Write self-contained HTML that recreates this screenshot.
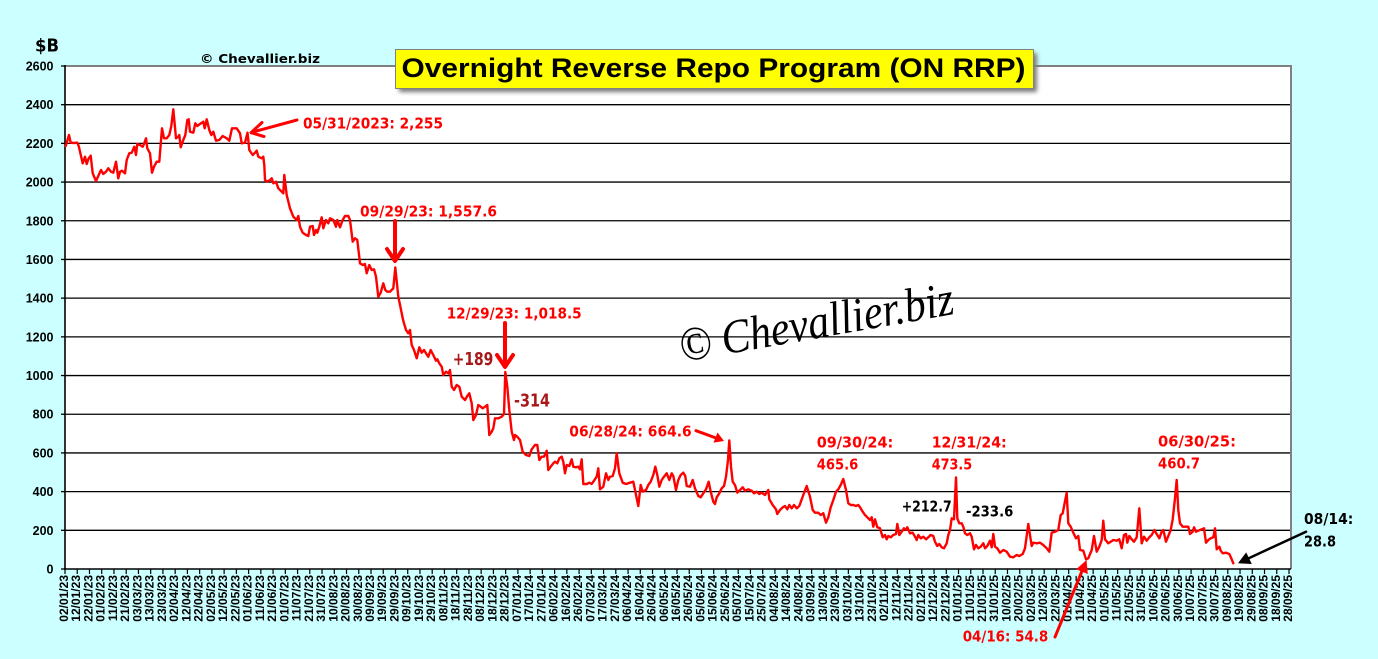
<!DOCTYPE html>
<html><head><meta charset="utf-8"><style>
html,body{margin:0;padding:0;background:#ccffff;}
svg{display:block;}
</style></head><body>
<svg width="1378" height="659" viewBox="0 0 1378 659" xmlns="http://www.w3.org/2000/svg">
<defs>
<filter id="sh" x="-5%" y="-30%" width="110%" height="160%"><feGaussianBlur stdDeviation="2"/></filter>
</defs>
<rect x="0" y="0" width="1378" height="659" fill="#ccffff"/>
<!-- plot area -->
<rect x="65" y="66" width="1226" height="503" fill="#ffffff"/>
<g stroke="#000" stroke-width="1.3">
<line x1="65" y1="530.31" x2="1290" y2="530.31"/>
<line x1="65" y1="491.62" x2="1290" y2="491.62"/>
<line x1="65" y1="452.92" x2="1290" y2="452.92"/>
<line x1="65" y1="414.23" x2="1290" y2="414.23"/>
<line x1="65" y1="375.54" x2="1290" y2="375.54"/>
<line x1="65" y1="336.85" x2="1290" y2="336.85"/>
<line x1="65" y1="298.15" x2="1290" y2="298.15"/>
<line x1="65" y1="259.46" x2="1290" y2="259.46"/>
<line x1="65" y1="220.77" x2="1290" y2="220.77"/>
<line x1="65" y1="182.08" x2="1290" y2="182.08"/>
<line x1="65" y1="143.38" x2="1290" y2="143.38"/>
<line x1="65" y1="104.69" x2="1290" y2="104.69"/>
</g>
<line x1="65" y1="66" x2="1292" y2="66" stroke="#808080" stroke-width="2"/>
<line x1="1291" y1="66" x2="1291" y2="569" stroke="#808080" stroke-width="2"/>
<!-- y axis -->
<line x1="65" y1="65" x2="65" y2="570" stroke="#000" stroke-width="1.6"/>
<g stroke="#000" stroke-width="1.3">
<line x1="61" y1="66" x2="65" y2="66"/><line x1="61" y1="104.69" x2="65" y2="104.69"/><line x1="61" y1="143.38" x2="65" y2="143.38"/><line x1="61" y1="182.08" x2="65" y2="182.08"/><line x1="61" y1="220.77" x2="65" y2="220.77"/><line x1="61" y1="259.46" x2="65" y2="259.46"/><line x1="61" y1="298.15" x2="65" y2="298.15"/><line x1="61" y1="336.85" x2="65" y2="336.85"/><line x1="61" y1="375.54" x2="65" y2="375.54"/><line x1="61" y1="414.23" x2="65" y2="414.23"/><line x1="61" y1="452.92" x2="65" y2="452.92"/><line x1="61" y1="491.62" x2="65" y2="491.62"/><line x1="61" y1="530.31" x2="65" y2="530.31"/><line x1="61" y1="569" x2="65" y2="569"/>
</g>
<!-- x axis -->
<line x1="64" y1="569" x2="1291" y2="569" stroke="#000" stroke-width="1.6"/>
<path stroke="#000" stroke-width="1.2" fill="none" d="M65 569v5M77.24 569v5M89.48 569v5M101.72 569v5M113.96 569v5M126.2 569v5M138.44 569v5M150.68 569v5M162.92 569v5M175.16 569v5M187.4 569v5M199.64 569v5M211.88 569v5M224.12 569v5M236.36 569v5M248.6 569v5M260.84 569v5M273.08 569v5M285.32 569v5M297.56 569v5M309.8 569v5M322.04 569v5M334.28 569v5M346.52 569v5M358.76 569v5M371 569v5M383.24 569v5M395.48 569v5M407.72 569v5M419.96 569v5M432.2 569v5M444.44 569v5M456.68 569v5M468.92 569v5M481.16 569v5M493.4 569v5M505.64 569v5M517.88 569v5M530.12 569v5M542.36 569v5M554.6 569v5M566.84 569v5M579.08 569v5M591.32 569v5M603.56 569v5M615.8 569v5M628.04 569v5M640.28 569v5M652.52 569v5M664.76 569v5M677 569v5M689.24 569v5M701.48 569v5M713.72 569v5M725.96 569v5M738.2 569v5M750.44 569v5M762.68 569v5M774.92 569v5M787.16 569v5M799.4 569v5M811.64 569v5M823.88 569v5M836.12 569v5M848.36 569v5M860.6 569v5M872.84 569v5M885.08 569v5M897.32 569v5M909.56 569v5M921.8 569v5M934.04 569v5M946.28 569v5M958.52 569v5M970.76 569v5M983 569v5M995.24 569v5M1007.48 569v5M1019.72 569v5M1031.96 569v5M1044.2 569v5M1056.44 569v5M1068.68 569v5M1080.92 569v5M1093.16 569v5M1105.4 569v5M1117.64 569v5M1129.88 569v5M1142.12 569v5M1154.36 569v5M1166.6 569v5M1178.84 569v5M1191.08 569v5M1203.32 569v5M1215.56 569v5M1227.8 569v5M1240.04 569v5M1252.28 569v5M1264.52 569v5M1276.76 569v5M1289 569v5"/>
<!-- y labels -->
<g font-family="Liberation Sans, Arial, sans-serif" font-weight="bold" font-size="12.5" fill="#000" text-anchor="end">
<text x="53.5" y="70.5">2600</text><text x="53.5" y="109.2">2400</text><text x="53.5" y="147.9">2200</text><text x="53.5" y="186.6">2000</text><text x="53.5" y="225.3">1800</text><text x="53.5" y="264">1600</text><text x="53.5" y="302.7">1400</text><text x="53.5" y="341.4">1200</text><text x="53.5" y="380">1000</text><text x="53.5" y="418.7">800</text><text x="53.5" y="457.4">600</text><text x="53.5" y="496.1">400</text><text x="53.5" y="534.8">200</text><text x="53.5" y="573.5">0</text>
</g>
<!-- x labels -->
<g font-family="Liberation Sans, Arial, sans-serif" font-weight="bold" font-size="12" fill="#000" text-anchor="end">
<text transform="translate(68,575) rotate(-90)">02/01/23</text>
<text transform="translate(80.24,575) rotate(-90)">12/01/23</text>
<text transform="translate(92.48,575) rotate(-90)">22/01/23</text>
<text transform="translate(104.72,575) rotate(-90)">01/02/23</text>
<text transform="translate(116.96,575) rotate(-90)">11/02/23</text>
<text transform="translate(129.2,575) rotate(-90)">21/02/23</text>
<text transform="translate(141.44,575) rotate(-90)">03/03/23</text>
<text transform="translate(153.68,575) rotate(-90)">13/03/23</text>
<text transform="translate(165.92,575) rotate(-90)">23/03/23</text>
<text transform="translate(178.16,575) rotate(-90)">02/04/23</text>
<text transform="translate(190.4,575) rotate(-90)">12/04/23</text>
<text transform="translate(202.64,575) rotate(-90)">22/04/23</text>
<text transform="translate(214.88,575) rotate(-90)">02/05/23</text>
<text transform="translate(227.12,575) rotate(-90)">12/05/23</text>
<text transform="translate(239.36,575) rotate(-90)">22/05/23</text>
<text transform="translate(251.6,575) rotate(-90)">01/06/23</text>
<text transform="translate(263.84,575) rotate(-90)">11/06/23</text>
<text transform="translate(276.08,575) rotate(-90)">21/06/23</text>
<text transform="translate(288.32,575) rotate(-90)">01/07/23</text>
<text transform="translate(300.56,575) rotate(-90)">11/07/23</text>
<text transform="translate(312.8,575) rotate(-90)">21/07/23</text>
<text transform="translate(325.04,575) rotate(-90)">31/07/23</text>
<text transform="translate(337.28,575) rotate(-90)">10/08/23</text>
<text transform="translate(349.52,575) rotate(-90)">20/08/23</text>
<text transform="translate(361.76,575) rotate(-90)">30/08/23</text>
<text transform="translate(374,575) rotate(-90)">09/09/23</text>
<text transform="translate(386.24,575) rotate(-90)">19/09/23</text>
<text transform="translate(398.48,575) rotate(-90)">29/09/23</text>
<text transform="translate(410.72,575) rotate(-90)">09/10/23</text>
<text transform="translate(422.96,575) rotate(-90)">19/10/23</text>
<text transform="translate(435.2,575) rotate(-90)">29/10/23</text>
<text transform="translate(447.44,575) rotate(-90)">08/11/23</text>
<text transform="translate(459.68,575) rotate(-90)">18/11/23</text>
<text transform="translate(471.92,575) rotate(-90)">28/11/23</text>
<text transform="translate(484.16,575) rotate(-90)">08/12/23</text>
<text transform="translate(496.4,575) rotate(-90)">18/12/23</text>
<text transform="translate(508.64,575) rotate(-90)">28/12/23</text>
<text transform="translate(520.88,575) rotate(-90)">07/01/24</text>
<text transform="translate(533.12,575) rotate(-90)">17/01/24</text>
<text transform="translate(545.36,575) rotate(-90)">27/01/24</text>
<text transform="translate(557.6,575) rotate(-90)">06/02/24</text>
<text transform="translate(569.84,575) rotate(-90)">16/02/24</text>
<text transform="translate(582.08,575) rotate(-90)">26/02/24</text>
<text transform="translate(594.32,575) rotate(-90)">07/03/24</text>
<text transform="translate(606.56,575) rotate(-90)">17/03/24</text>
<text transform="translate(618.8,575) rotate(-90)">27/03/24</text>
<text transform="translate(631.04,575) rotate(-90)">06/04/24</text>
<text transform="translate(643.28,575) rotate(-90)">16/04/24</text>
<text transform="translate(655.52,575) rotate(-90)">26/04/24</text>
<text transform="translate(667.76,575) rotate(-90)">06/05/24</text>
<text transform="translate(680,575) rotate(-90)">16/05/24</text>
<text transform="translate(692.24,575) rotate(-90)">26/05/24</text>
<text transform="translate(704.48,575) rotate(-90)">05/06/24</text>
<text transform="translate(716.72,575) rotate(-90)">15/06/24</text>
<text transform="translate(728.96,575) rotate(-90)">25/06/24</text>
<text transform="translate(741.2,575) rotate(-90)">05/07/24</text>
<text transform="translate(753.44,575) rotate(-90)">15/07/24</text>
<text transform="translate(765.68,575) rotate(-90)">25/07/24</text>
<text transform="translate(777.92,575) rotate(-90)">04/08/24</text>
<text transform="translate(790.16,575) rotate(-90)">14/08/24</text>
<text transform="translate(802.4,575) rotate(-90)">24/08/24</text>
<text transform="translate(814.64,575) rotate(-90)">03/09/24</text>
<text transform="translate(826.88,575) rotate(-90)">13/09/24</text>
<text transform="translate(839.12,575) rotate(-90)">23/09/24</text>
<text transform="translate(851.36,575) rotate(-90)">03/10/24</text>
<text transform="translate(863.6,575) rotate(-90)">13/10/24</text>
<text transform="translate(875.84,575) rotate(-90)">23/10/24</text>
<text transform="translate(888.08,575) rotate(-90)">02/11/24</text>
<text transform="translate(900.32,575) rotate(-90)">12/11/24</text>
<text transform="translate(912.56,575) rotate(-90)">22/11/24</text>
<text transform="translate(924.8,575) rotate(-90)">02/12/24</text>
<text transform="translate(937.04,575) rotate(-90)">12/12/24</text>
<text transform="translate(949.28,575) rotate(-90)">22/12/24</text>
<text transform="translate(961.52,575) rotate(-90)">01/01/25</text>
<text transform="translate(973.76,575) rotate(-90)">11/01/25</text>
<text transform="translate(986,575) rotate(-90)">21/01/25</text>
<text transform="translate(998.24,575) rotate(-90)">31/01/25</text>
<text transform="translate(1010.48,575) rotate(-90)">10/02/25</text>
<text transform="translate(1022.72,575) rotate(-90)">20/02/25</text>
<text transform="translate(1034.96,575) rotate(-90)">02/03/25</text>
<text transform="translate(1047.2,575) rotate(-90)">12/03/25</text>
<text transform="translate(1059.44,575) rotate(-90)">22/03/25</text>
<text transform="translate(1071.68,575) rotate(-90)">01/04/25</text>
<text transform="translate(1083.92,575) rotate(-90)">11/04/25</text>
<text transform="translate(1096.16,575) rotate(-90)">21/04/25</text>
<text transform="translate(1108.4,575) rotate(-90)">01/05/25</text>
<text transform="translate(1120.64,575) rotate(-90)">11/05/25</text>
<text transform="translate(1132.88,575) rotate(-90)">21/05/25</text>
<text transform="translate(1145.12,575) rotate(-90)">31/05/25</text>
<text transform="translate(1157.36,575) rotate(-90)">10/06/25</text>
<text transform="translate(1169.6,575) rotate(-90)">20/06/25</text>
<text transform="translate(1181.84,575) rotate(-90)">30/06/25</text>
<text transform="translate(1194.08,575) rotate(-90)">10/07/25</text>
<text transform="translate(1206.32,575) rotate(-90)">20/07/25</text>
<text transform="translate(1218.56,575) rotate(-90)">30/07/25</text>
<text transform="translate(1230.8,575) rotate(-90)">09/08/25</text>
<text transform="translate(1243.04,575) rotate(-90)">19/08/25</text>
<text transform="translate(1255.28,575) rotate(-90)">29/08/25</text>
<text transform="translate(1267.52,575) rotate(-90)">08/09/25</text>
<text transform="translate(1279.76,575) rotate(-90)">18/09/25</text>
<text transform="translate(1292,575) rotate(-90)">28/09/25</text>
</g>
<!-- watermark -->
<text transform="translate(682,362) rotate(-10)" font-family="Liberation Serif, DejaVu Serif, serif" font-style="italic" font-size="48" fill="#000" textLength="278" lengthAdjust="spacingAndGlyphs">© Chevallier.biz</text>
<!-- series -->
<polyline fill="none" stroke="#ff0000" stroke-width="2.4" stroke-linejoin="round" stroke-linecap="round" points="65.7,146 69,135 70.7,142.7 74,143 77.3,142.7 78.7,146 82.7,163.3 85,156.7 86.7,164 88.7,158.3 90.7,155.7 92.7,173.3 96,181 98.7,175 101,170 103.3,174 106,171.7 108.3,168.3 111,171.7 113.3,172.7 116,161.7 118.3,178.3 120,171.7 122,170.7 125,173.3 126.7,160 129.3,153.3 131.7,152.7 134.3,146.7 136,155 137.3,144 140,145 142.7,146.7 144,144 146,138.3 147.3,148.3 150,153.3 152,172.7 154,166.7 156.7,161.7 159.3,161.7 162,128.3 164,138.3 166.7,138.3 169.3,135 171.3,126 173.3,109.3 176,138.3 178.3,136.7 179.3,135 180.7,147.3 183.3,140 185.3,135 187.3,120 188.7,119.3 190,131.7 193.3,132.7 195.3,123.3 197.3,126 200,124 203.3,121.7 204.7,128.3 206.7,119.3 209.3,130 211.3,135 213.3,131.7 216,140.7 219.3,140 222.7,136 226.7,138.3 229.3,140.7 232,128.3 236.7,128.3 240,133.3 241.7,143.3 245,142.7 247.5,132.7 249.3,150 252.7,155 255,152.7 256.7,150.7 258.3,156.7 261.7,158.3 263.3,156.7 264.3,165 265,180 267.3,181.7 270,180 271.7,178.3 273.3,183.3 276,181.7 278.3,188.3 281.7,191.7 283.3,193.3 284.3,175 286.7,195 290,208.3 293.3,216.7 296.7,220 298.3,216 300,226.7 302.7,232.7 306,235 308.3,236 310,226.7 312.7,226 314,235 316,230 317.3,232.7 319.3,226.7 321.7,217.3 323.3,228.3 326,220 328.3,223.3 330,218.3 333.3,220 336,226.7 337.3,220 340,227.3 342.7,220 345,216 348.3,216 350,220 352.7,241.7 355,238.3 357.3,240 360,263.3 362.7,265 365,264 366.7,273.3 369.3,265 371.7,270 374,269.3 376,276.7 378.3,296.7 380.7,292.7 383.3,283.3 385.3,290 387.3,291.7 390,291.7 393.3,288.3 395.3,267.5 398.3,296.7 400.7,308.3 402.7,318.3 404,323.3 406,330 408.3,333.3 410,330 411.7,345 414,350 416.7,358.3 419.3,347.3 421.7,352.7 424,350 426,353.3 428.3,356.7 430.7,350 433.3,355 436,360.7 437.3,359.3 439.3,363.3 441.7,366.7 443.3,375 446,371.7 448.3,373.3 450,370 451.7,386.7 454,390 456.7,385 459.3,386.7 461.7,396.7 465,400 467.3,396 469.3,393.3 471.7,403.3 473.3,420 476,415 478.3,405 480.7,406.7 482.7,408.3 485,406.7 487.3,405 489.3,435 491.7,431.7 493.3,428.3 495,418.3 498.3,418.3 501.7,416.7 504,414 505.3,372 507.3,386.7 509.3,410 511.7,431.7 514,440 515,435 517.3,436.7 520,440 522.7,451.7 526,455 529.3,456 531.7,449.3 535,445 537.3,445 539.3,460 541.7,456.7 544,456.7 546.7,450.7 548.3,470 550.7,466.7 553.3,463.3 555,461.7 557.3,463.3 559.3,458.3 561.7,456.7 563.3,461.7 565,473.3 566.7,465 569.3,466 571.7,459.3 573.3,466.7 576,467.3 578.3,466.7 580,469.3 581.7,459.3 583.3,484 586.7,484 589.3,482.7 591.7,484 594,480.7 596.7,476.7 598.3,468.3 600,489.3 603.3,486.7 606,473.3 608.3,480 610,476.7 612.7,476 615,468.3 616.7,453.3 619.3,473.3 622.7,482.7 626,484 630,482.7 633.3,481.7 635,490 636.7,498.3 638.3,506 640.7,485 642.7,491.7 646,490 648.3,485 650.7,481.7 653.3,475 655.3,466.7 657.3,475 659.3,486.7 661.7,480 664,476.7 666.7,473.3 669.3,480 671.7,473.3 673.3,476 676,490 678.3,480 680.7,475 683.3,472.7 685.3,476 686.7,486 690,486.7 692.7,480 695,488.3 698.3,496 700.7,497.3 703.3,493.3 706,489.3 708.7,481.7 710.7,491.7 713.3,501.7 715,504 716.7,497.3 719.3,493.3 721.7,488.3 724,486 726,476.7 728,460 729.3,440.5 731,466.7 732.7,481.7 735,485 737.3,492.7 740,490 742.7,487.3 745,490.7 748.3,489.3 751.7,490.7 754,493.3 756.7,491.7 759.3,494 761.7,492.7 765,495 768.3,490 769.3,499.3 772.7,505 776,509.3 777.3,514 780,510 782.7,507.3 785,506 787.3,509.3 789.3,505 791.7,508.3 794,505 796.7,508.3 799.3,506 803.3,495 806.7,486 810,496.7 812.7,510 815,512.7 818.3,512.7 820.7,515 823.3,513.3 826,522.7 828.3,517.3 830.7,507.3 833.3,500 836,491.7 838.3,489.3 840.7,485 843.3,479 846,490 848.3,503.3 850.7,505 853.3,505 856,506 858.3,505 860,507.3 862.7,511.7 865,515 867.3,517.3 870,520 871.7,517.3 873.3,526.7 875,519.3 877.3,527.3 880,528.3 882.7,537.3 885,535 886.7,539.3 888.3,536 890.7,537.3 893.3,535 896,534 897.3,524 899.3,535 901.7,531.7 904,528.3 906,530 907.3,527.3 910,533.3 912.7,532.7 915,536.7 916.7,540 918.3,535 920.7,538.3 923.3,536.7 926,539.3 928.3,537.3 930.7,535 933.3,536 935,541.7 937.3,546 939.3,544 941.7,547.3 944,548.3 946.7,543.3 948.3,535 950,530 951.7,518.3 954,519.3 956,477.4 957.3,518.3 959.3,523.3 961.7,523.3 963.3,526.7 965,533.3 967.3,535 970,533.3 971.7,536.7 974,549.3 976,545 978.3,548.3 980.7,546.7 983.3,543.3 985,548.3 987.3,546 990,540.7 991.7,547.3 993.3,534 995,546.7 997.3,548.3 1000,552.7 1003.3,550 1006.7,551.7 1010,556.7 1013.3,557.3 1016.7,555 1019.3,556 1022.7,554 1025,548.3 1028.3,524 1031.7,546 1033.3,542.7 1036.7,543.3 1040,542.7 1043.3,545 1046.7,548.3 1049.3,551.7 1051.7,532.7 1055,531.7 1058.3,530 1060.7,515 1062.7,513.3 1064.3,505 1066.7,492.7 1068.3,523.3 1070.7,526.7 1073.3,532.7 1076,538.3 1078.3,536 1080,550 1083.3,550.7 1086,559.3 1088.3,558.3 1091.7,550 1094,536 1096.7,551.7 1099.3,546.7 1101.7,540 1103.3,520.7 1105,539.3 1108.3,543.3 1110.7,541.7 1113.3,540 1116.7,540.7 1119.3,539.3 1121.7,548.3 1124,535 1126,534 1127.3,542.7 1129.3,536 1131.7,539.3 1134,541.7 1136.7,537.3 1139.3,508.3 1141.7,543.3 1144,536.7 1146.7,540.7 1149.3,537.3 1151.7,535 1154.3,530 1156.7,534 1159.3,538.3 1161.7,531.7 1163.3,530 1166,541.7 1168.3,536 1170.7,530 1172.7,519.3 1175,498.3 1176.7,480 1178.3,510 1180,523.3 1182.7,526.7 1188.3,526.7 1190,534 1192.7,531.7 1194,527.3 1196,531.7 1198.3,530.7 1201.7,529.3 1204,528.3 1206,542.7 1208.3,540 1210.7,538.3 1213.3,537.3 1215,528.3 1216.7,549.3 1219.3,546.7 1220.7,550.7 1222.7,553.3 1226,552.7 1229.3,554 1231.7,559.3 1233.3,563.3"/>
<!-- title -->
<rect x="399" y="53" width="638" height="39" fill="#7a7a7a" filter="url(#sh)"/>
<rect x="395.5" y="49.5" width="638" height="39" fill="#ffff00" stroke="#808080" stroke-width="1"/>
<text x="401.5" y="77" font-family="Liberation Sans, Arial, sans-serif" font-weight="bold" font-size="27" fill="#000" textLength="624" lengthAdjust="spacingAndGlyphs">Overnight Reverse Repo Program (ON RRP)</text>
<!-- top labels -->
<text x="35" y="51.5" font-family="DejaVu Sans, Verdana, sans-serif" font-weight="bold" font-size="18" fill="#000" textLength="24" lengthAdjust="spacingAndGlyphs">$B</text>
<text x="200" y="63" font-family="DejaVu Sans, Verdana, sans-serif" font-weight="bold" font-size="12" fill="#000" textLength="120" lengthAdjust="spacingAndGlyphs">© Chevallier.biz</text>
<!-- annotations -->
<g font-family="DejaVu Sans, Verdana, sans-serif" font-weight="bold" font-size="15" fill="#ff0000">
<text x="303" y="128.5" textLength="140" lengthAdjust="spacingAndGlyphs">05/31/2023: 2,255</text>
<text x="360" y="216.7" textLength="137" lengthAdjust="spacingAndGlyphs">09/29/23: 1,557.6</text>
<text x="446.7" y="318.3" textLength="135" lengthAdjust="spacingAndGlyphs">12/29/23: 1,018.5</text>
<text x="569.3" y="436.7" textLength="122.4" lengthAdjust="spacingAndGlyphs">06/28/24: 664.6</text>
<text x="816.7" y="447.3" textLength="76.6" lengthAdjust="spacingAndGlyphs">09/30/24:</text>
<text x="816.7" y="469.3" textLength="41.6" lengthAdjust="spacingAndGlyphs">465.6</text>
<text x="931.7" y="447.3" textLength="75" lengthAdjust="spacingAndGlyphs">12/31/24:</text>
<text x="931.7" y="469.3" textLength="40.5" lengthAdjust="spacingAndGlyphs">473.5</text>
<text x="1158" y="446.5" textLength="78" lengthAdjust="spacingAndGlyphs">06/30/25:</text>
<text x="1158" y="468.5" textLength="42" lengthAdjust="spacingAndGlyphs">460.7</text>
<text x="962.7" y="641.7" textLength="85.6" lengthAdjust="spacingAndGlyphs">04/16: 54.8</text>
</g>
<g font-family="DejaVu Sans, Verdana, sans-serif" font-weight="bold" font-size="18" fill="#a81818">
<text x="452.7" y="365" textLength="40.6" lengthAdjust="spacingAndGlyphs">+189</text>
<text x="514" y="406.7" textLength="36" lengthAdjust="spacingAndGlyphs">-314</text>
</g>
<g font-family="DejaVu Sans, Verdana, sans-serif" font-weight="bold" font-size="15" fill="#000">
<text x="901.7" y="511.7" textLength="50" lengthAdjust="spacingAndGlyphs">+212.7</text>
<text x="966" y="516.7" textLength="47.3" lengthAdjust="spacingAndGlyphs">-233.6</text>
<text x="1304" y="524" textLength="49.3" lengthAdjust="spacingAndGlyphs">08/14:</text>
<text x="1304" y="546.7" textLength="32" lengthAdjust="spacingAndGlyphs">28.8</text>
</g>
<!-- arrows -->
<g stroke="#ff0000" fill="none" stroke-linecap="round" stroke-linejoin="round">
<line x1="297" y1="120" x2="253" y2="132" stroke-width="3"/>
<polyline points="262,122.5 251,132.7 264,136.5" stroke-width="3"/>
<line x1="395" y1="221" x2="395" y2="258" stroke-width="4"/>
<polyline points="387,249 395,261 403,249" stroke-width="4"/>
<line x1="505" y1="323" x2="505" y2="364" stroke-width="4"/>
<polyline points="497,355 505,367 513,355" stroke-width="4"/>
<line x1="696" y1="430.7" x2="716" y2="438" stroke-width="3"/>
<line x1="1055" y1="637" x2="1082" y2="571" stroke-width="3"/>
</g>
<polygon points="724,441 713.5,442.6 717.5,432.5" fill="#ff0000"/>
<polygon points="1086.5,560 1087.8,574 1076.2,569.2" fill="#ff0000"/>
<line x1="1306" y1="531.7" x2="1248" y2="558.6" stroke="#000" stroke-width="2.5" stroke-linecap="round"/>
<polygon points="1238,563.3 1251.8,564 1246.2,552.4" fill="#000"/>
</svg>
</body></html>
